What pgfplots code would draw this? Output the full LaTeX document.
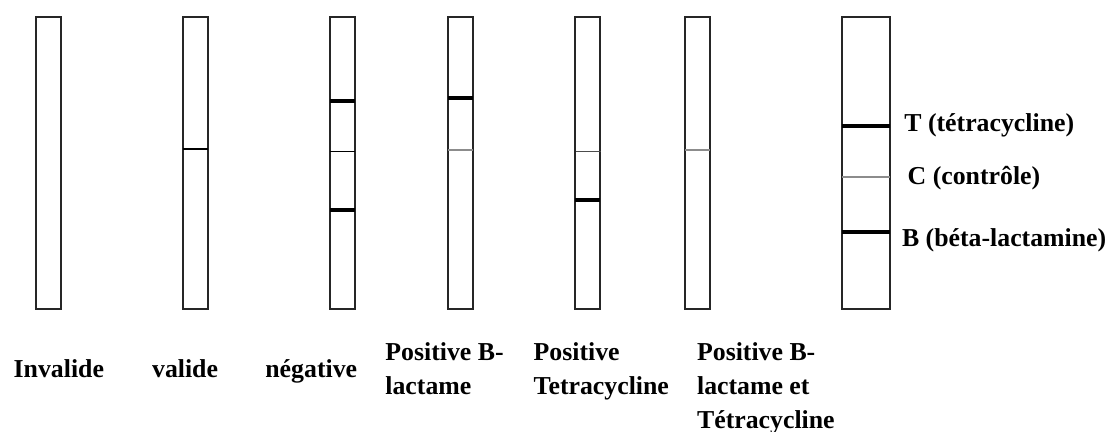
\documentclass[border=0pt]{standalone}
\usepackage{fontspec}
\setmainfont{Liberation Serif}
\usepackage{pgfplots}
\pgfplotsset{compat=1.18}
\begin{document}
\begin{tikzpicture}[
  strip/.style={draw=black!85, line width=0.8pt, line join=miter},
  thick band/.style={draw=black, line width=2pt},
  thin band/.style={draw=black, line width=0.6pt},
  gray band/.style={draw=black!45, line width=1pt},
  lab/.style={anchor=base west, inner sep=0pt, font=\fontsize{12.9}{16}\selectfont\bfseries},
]
\begin{axis}[
  hide axis, scale only axis,
  width=554pt, height=216pt,
  xmin=0, xmax=1108, ymin=0, ymax=432,
  y dir=reverse, clip=false, enlargelimits=false,
  every axis plot/.append style={no markers},
]
\coordinate (SW) at (axis cs:0,432);
\coordinate (NE) at (axis cs:1108,0);
% strips
\addplot[strip] coordinates {(36,17)(61,17)(61,309)(36,309)} -- cycle;
\addplot[strip] coordinates {(183,17)(208,17)(208,309)(183,309)} -- cycle;
\addplot[strip] coordinates {(330,17)(355,17)(355,309)(330,309)} -- cycle;
\addplot[strip] coordinates {(448,17)(473,17)(473,309)(448,309)} -- cycle;
\addplot[strip] coordinates {(575,17)(600,17)(600,309)(575,309)} -- cycle;
\addplot[strip] coordinates {(685,17)(710,17)(710,309)(685,309)} -- cycle;
\addplot[strip] coordinates {(842,17)(890,17)(890,309)(842,309)} -- cycle;
% valide
\addplot[thin band] coordinates {(183,149)(208,149)};
% negative
\addplot[thick band] coordinates {(330,101.5)(355,101.5)};
\addplot[thin band] coordinates {(330,151.3)(355,151.3)};
\addplot[thick band] coordinates {(330,210)(355,210)};
% positive B-lactame
\addplot[thick band] coordinates {(448,98)(473,98)};
\addplot[gray band] coordinates {(448,150.5)(473,150.5)};
% positive tetracycline
\addplot[draw=black!70, line width=0.5pt] coordinates {(576,151.3)(601,151.3)};
\addplot[thick band] coordinates {(575,200.4)(600,200.4)};
% positive both
\addplot[gray band] coordinates {(685,150.5)(710,150.5)};
% reference strip
\addplot[thick band] coordinates {(842,125.7)(890,125.7)};
\addplot[draw=black!45, line width=0.6pt] coordinates {(842,177)(890,177)};
\addplot[thick band] coordinates {(842,232.3)(890,232.3)};
% right labels
\node[lab] at (axis cs:904,131.7) {T (tétracycline)};
\node[lab] at (axis cs:907.3,185) {C (contrôle)};
\node[lab] at (axis cs:901.7,246.5) {B (béta-lactamine)};
% bottom labels
\node[lab] at (axis cs:13.3,378) {Invalide};
\node[lab] at (axis cs:151.7,378) {valide};
\node[lab] at (axis cs:265,378) {négative};
\node[lab] at (axis cs:385,361) {Positive B-};
\node[lab] at (axis cs:385,395) {lactame};
\node[lab] at (axis cs:533.3,361) {Positive};
\node[lab] at (axis cs:533.3,395) {Tetracycline};
\node[lab] at (axis cs:696.7,361) {Positive B-};
\node[lab] at (axis cs:696.7,395) {lactame et};
\node[lab] at (axis cs:696.7,429) {Tétracycline};
\end{axis}
\pgfresetboundingbox
\path (SW) rectangle (NE);
\end{tikzpicture}
\end{document}
